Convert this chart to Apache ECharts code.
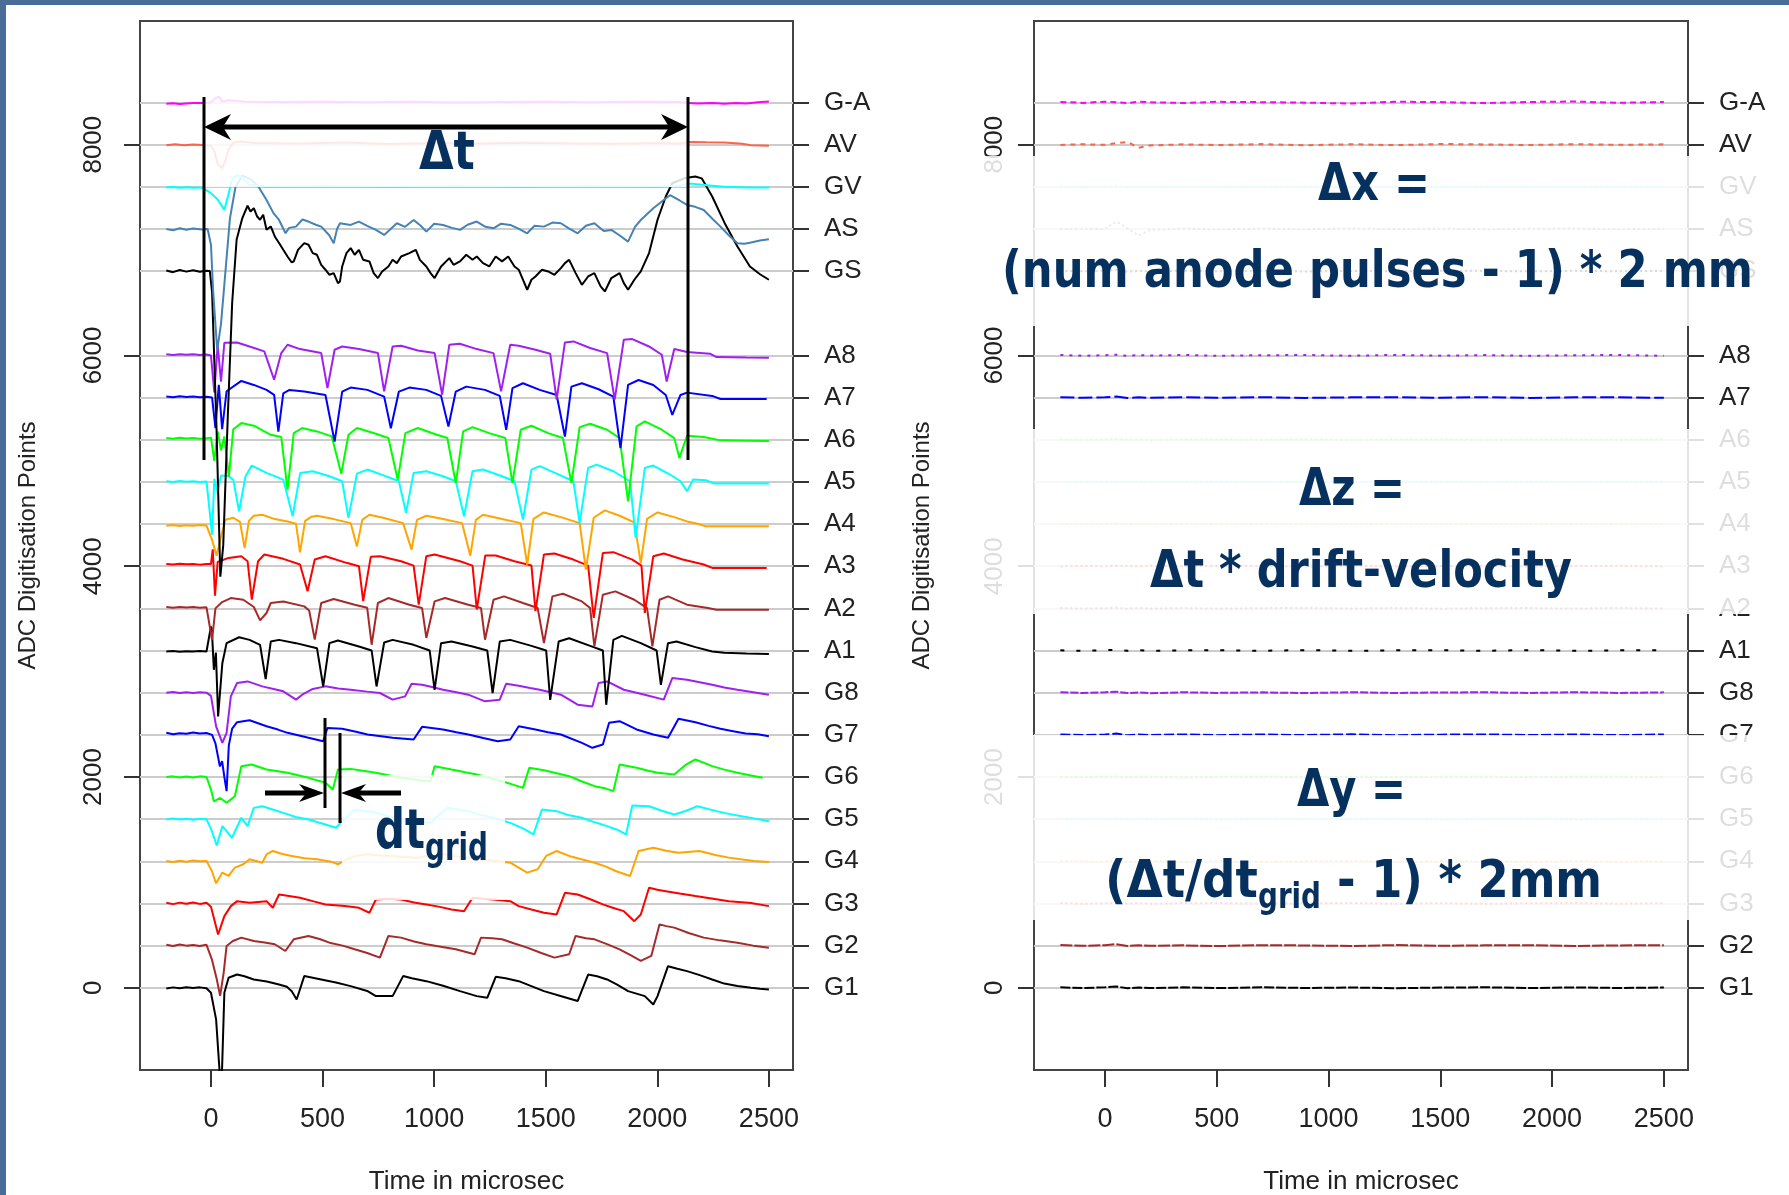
<!doctype html>
<html>
<head>
<meta charset="utf-8">
<style>
html, body { margin: 0; padding: 0; background: #fff; }
#main { width: 1789px; height: 1195px; }
</style>
</head>
<body>
<div id="main"></div>
<script src="https://cdn.jsdelivr.net/npm/echarts@6/dist/echarts.min.js"></script>
<script>
// channel names, bottom to top, and the ADC offset each trace is stacked on
var channels = ['G1', 'G2', 'G3', 'G4', 'G5', 'G6', 'G7', 'G8',
                'A1', 'A2', 'A3', 'A4', 'A5', 'A6', 'A7', 'A8',
                'GS', 'AS', 'GV', 'AV', 'G-A'];
var offsets = [0, 400, 800, 1200, 1600, 2000, 2400, 2800,
               3200, 3600, 4000, 4400, 4800, 5200, 5600, 6000,
               6800, 7200, 7600, 8000, 8400];
var timeTicks = [0, 500, 1000, 1500, 2000, 2500];
var adcTicks = [0, 2000, 4000, 6000, 8000];

// left panel: [time (microsec), ADC deviation from the channel offset]
var L_G1 = [[-200,-6],[-170,4],[-140,-4],[-110,6],[-80,-2],[-50,4],[-20,-4],[0,-47],[23,-300],[38,-775],[45,-1100],[51,-1100],[60,-47],[79,95],[117,126],[150,110],[192,79],[250,60],[305,32],[340,10],[362,-32],[384,-111],[418,111],[494,79],[560,50],[626,16],[700,-30],[739,-79],[814,-79],[861,111],[900,90],[965,63],[1040,20],[1116,-32],[1191,-79],[1238,-95],[1276,104],[1320,90],[1379,63],[1430,20],[1492,-32],[1570,-80],[1643,-126],[1690,126],[1730,110],[1775,79],[1820,30],[1869,-32],[1944,-79],[1982,-158],[2001,-79],[2048,205],[2090,180],[2133,158],[2190,120],[2246,79],[2300,40],[2359,16],[2420,0],[2460,-10],[2500,-16]];
var L_G2 = [[-200,8],[-170,-4],[-140,10],[-110,0],[-80,6],[-50,-4],[-20,8],[4,-130],[26,-319],[41,-477],[57,-256],[70,-3],[98,44],[136,76],[192,44],[240,30],[286,13],[333,-51],[371,60],[437,92],[490,60],[531,28],[590,0],[644,-35],[700,-70],[757,-114],[795,92],[852,76],[910,40],[965,13],[1030,-10],[1097,-35],[1181,-82],[1210,76],[1260,70],[1304,60],[1360,20],[1417,-19],[1480,-70],[1539,-114],[1605,-82],[1634,92],[1680,70],[1719,60],[1780,10],[1831,-35],[1880,-90],[1926,-145],[1973,-98],[2010,202],[2040,185],[2076,171],[2140,120],[2208,76],[2280,50],[2359,28],[2430,0],[2500,-19]];
var L_G3 = [[-200,6],[-170,-6],[-140,8],[-110,-2],[-80,10],[-50,-4],[-20,6],[0,-30],[32,-294],[60,-120],[89,-25],[117,22],[173,6],[249,22],[277,-41],[305,85],[350,70],[399,54],[460,20],[513,-9],[600,-25],[663,-41],[710,-88],[739,38],[800,45],[852,38],[910,10],[965,-9],[1020,-30],[1078,-57],[1134,-73],[1172,54],[1220,45],[1266,38],[1341,22],[1379,-25],[1440,-60],[1492,-88],[1549,-104],[1586,101],[1643,85],[1700,40],[1756,-9],[1800,-40],[1850,-73],[1897,-168],[1926,-104],[1963,149],[2000,130],[2038,117],[2100,95],[2171,70],[2250,45],[2321,22],[2420,5],[2500,-25]];
var L_G4 = [[-200,4],[-170,-6],[-140,6],[-110,-4],[-80,8],[-50,0],[-20,4],[4,-92],[23,-209],[51,-107],[79,-139],[107,-60],[145,-28],[173,19],[230,-13],[249,66],[277,98],[320,70],[362,51],[420,30],[475,19],[540,-5],[569,-28],[607,19],[650,50],[701,66],[760,55],[814,51],[870,40],[927,35],[980,55],[1040,66],[1120,40],[1191,19],[1270,5],[1341,-13],[1417,-107],[1464,-76],[1502,51],[1549,98],[1605,51],[1660,20],[1719,-13],[1770,-50],[1813,-92],[1878,-139],[1916,98],[1982,129],[2040,100],[2095,82],[2189,98],[2260,60],[2321,35],[2390,15],[2434,3],[2500,-6]];
var L_G5 = [[-200,-3],[-170,6],[-140,-4],[-110,4],[-80,-6],[-50,3],[-20,0],[4,-114],[26,-250],[51,-66],[70,-114],[94,-177],[136,13],[164,-66],[192,107],[230,123],[280,90],[324,60],[380,20],[437,-3],[513,-51],[560,-82],[588,-19],[644,92],[700,75],[739,60],[800,25],[852,-3],[920,-20],[984,-35],[1059,107],[1100,95],[1153,76],[1210,40],[1266,13],[1341,-35],[1400,-90],[1445,-145],[1483,92],[1549,76],[1600,40],[1662,13],[1720,-30],[1775,-66],[1820,-100],[1860,-145],[1888,130],[1963,123],[2020,80],[2076,44],[2130,80],[2180,123],[2265,76],[2320,50],[2378,28],[2440,5],[2500,-19]];
var L_G6 = [[-200,0],[-170,6],[-140,-4],[-110,4],[-80,-4],[-50,6],[-20,0],[0,-119],[13,-231],[41,-199],[70,-245],[107,-182],[136,103],[183,119],[249,71],[343,40],[437,-8],[513,-55],[546,-119],[569,71],[626,77],[680,60],[739,40],[800,15],[852,-8],[920,-25],[984,-40],[1002,103],[1078,71],[1140,45],[1191,24],[1250,-10],[1304,-40],[1350,-70],[1398,-103],[1426,87],[1492,64],[1550,35],[1605,8],[1660,-40],[1719,-87],[1770,-110],[1803,-134],[1831,119],[1907,87],[1960,60],[2001,40],[2076,24],[2130,120],[2171,166],[2246,103],[2300,70],[2359,40],[2420,15],[2472,-8]];
var L_G7 = [[-200,19],[-170,6],[-140,16],[-110,10],[-80,22],[-50,12],[-20,18],[5,0],[20,-80],[40,-300],[50,-250],[60,-400],[70,-534],[80,-100],[95,60],[117,120],[173,139],[249,82],[300,50],[343,19],[437,-28],[503,-60],[522,66],[588,57],[650,30],[701,3],[814,-28],[908,-44],[946,76],[1040,51],[1100,25],[1153,3],[1220,-30],[1285,-60],[1341,-44],[1379,82],[1454,51],[1510,25],[1568,3],[1662,-76],[1709,-123],[1756,-92],[1784,114],[1831,130],[1907,51],[1982,3],[2048,-28],[2095,152],[2171,120],[2230,85],[2283,57],[2340,35],[2396,13],[2450,5],[2500,-13]];
var L_G8 = [[-200,0],[-170,6],[-140,-4],[-110,4],[-80,-2],[-50,4],[-20,0],[0,-30],[23,-319],[51,-477],[70,-382],[89,-35],[117,92],[164,107],[230,60],[290,30],[324,13],[381,-66],[409,-19],[456,35],[513,60],[570,40],[626,28],[700,10],[757,-3],[814,-66],[870,-35],[899,85],[946,76],[1000,50],[1040,28],[1100,5],[1153,-19],[1228,-82],[1294,-66],[1323,85],[1379,66],[1430,45],[1473,28],[1568,-19],[1643,-114],[1709,-130],[1737,92],[1775,107],[1850,28],[1944,-19],[2029,-66],[2067,139],[2133,123],[2190,100],[2246,76],[2300,50],[2359,28],[2430,5],[2500,-19]];
var L_A1 = [[-200,-9],[-170,-4],[-140,-12],[-110,-6],[-80,-10],[-50,-4],[-20,-9],[0,228],[4,196],[13,-183],[22,-20],[32,-626],[51,-120],[70,70],[126,126],[173,101],[220,54],[245,-272],[268,85],[305,101],[381,70],[475,22],[503,-341],[531,70],[569,95],[663,38],[720,0],[742,-341],[776,76],[814,101],[908,54],[980,0],[1002,-373],[1031,70],[1078,85],[1172,38],[1238,0],[1262,-405],[1294,85],[1341,101],[1436,44],[1502,0],[1520,-468],[1558,85],[1605,117],[1699,44],[1756,0],[1771,-515],[1803,101],[1841,139],[1926,70],[1997,0],[2016,-326],[2048,70],[2086,85],[2171,32],[2246,-9],[2300,-20],[2400,-28],[2500,-32]];
var L_A2 = [[-200,13],[-170,6],[-140,14],[-110,8],[-80,12],[-50,5],[-20,10],[5,-300],[20,0],[50,60],[89,98],[145,82],[192,13],[220,-114],[249,-44],[268,51],[324,66],[418,19],[440,-20],[465,-297],[494,51],[550,89],[644,35],[700,5],[720,-345],[748,51],[795,98],[889,35],[946,3],[965,-281],[1002,66],[1049,98],[1153,35],[1210,3],[1228,-297],[1266,82],[1313,114],[1398,51],[1464,3],[1492,-329],[1530,114],[1577,139],[1662,66],[1699,3],[1718,-360],[1756,130],[1812,161],[1897,82],[1954,3],[1978,-360],[2010,82],[2048,114],[2133,35],[2227,3],[2265,-13],[2400,-13],[2500,-13]];
var L_A3 = [[-200,22],[-170,16],[-140,24],[-110,18],[-80,22],[-50,15],[-20,20],[0,20],[8,160],[18,-280],[30,40],[79,79],[136,95],[164,47],[183,-316],[211,47],[239,111],[324,70],[399,16],[433,-237],[465,63],[513,95],[607,32],[663,0],[682,-332],[716,89],[757,95],[852,47],[908,6],[931,-364],[965,95],[1002,111],[1116,47],[1172,6],[1191,-411],[1229,101],[1276,101],[1360,47],[1436,6],[1454,-427],[1492,111],[1539,120],[1624,63],[1690,6],[1715,-490],[1756,126],[1803,133],[1888,63],[1929,6],[1944,-443],[1982,95],[2029,120],[2114,63],[2208,16],[2246,-16],[2400,-16],[2490,-16]];
var L_A4 = [[-200,-16],[-170,-10],[-140,-18],[-110,-12],[-80,-16],[-50,-10],[-20,-14],[5,-150],[25,-300],[45,-120],[65,40],[100,60],[130,20],[151,-228],[170,30],[192,79],[230,88],[286,47],[343,25],[381,3],[399,-269],[422,30],[447,66],[475,79],[550,47],[626,9],[654,-212],[678,40],[710,88],[776,57],[861,9],[899,-243],[923,40],[965,79],[1040,47],[1125,9],[1162,-300],[1187,40],[1219,88],[1304,47],[1388,9],[1417,-386],[1445,50],[1492,110],[1568,66],[1652,9],[1680,-433],[1715,60],[1765,130],[1831,79],[1897,16],[1926,-370],[1954,50],[2001,110],[2076,66],[2133,25],[2180,3],[2218,-22],[2350,-22],[2500,-22]];
var L_A5 = [[-200,6],[-170,0],[-140,8],[-110,2],[-80,6],[-50,0],[-20,4],[5,-500],[15,30],[30,-100],[45,60],[79,54],[100,20],[126,-278],[155,54],[183,155],[249,85],[324,22],[366,-326],[400,85],[456,101],[531,54],[588,6],[616,-341],[654,79],[701,117],[776,60],[842,6],[874,-294],[908,85],[965,101],[1040,54],[1097,6],[1134,-326],[1172,101],[1219,117],[1304,54],[1360,6],[1398,-357],[1436,117],[1473,149],[1549,79],[1624,6],[1652,-389],[1690,133],[1728,164],[1803,101],[1878,6],[1903,-531],[1944,133],[1982,155],[2057,70],[2104,6],[2133,-88],[2161,22],[2218,16],[2255,-16],[2400,-16],[2500,-16]];
var L_A6 = [[-200,16],[-170,10],[-140,18],[-110,12],[-80,16],[-50,10],[-20,14],[0,20],[15,-200],[30,80],[45,-100],[60,30],[80,-350],[100,100],[136,158],[192,133],[268,47],[315,25],[343,-474],[371,63],[409,111],[475,79],[541,32],[584,-322],[616,47],[654,111],[739,57],[795,16],[837,-379],[871,63],[927,111],[1002,54],[1059,16],[1097,-411],[1130,79],[1172,120],[1247,63],[1319,16],[1351,-411],[1388,95],[1436,133],[1511,63],[1577,16],[1615,-411],[1652,120],[1699,152],[1775,95],[1831,16],[1869,-585],[1907,126],[1944,174],[2020,95],[2076,16],[2099,-174],[2133,38],[2208,25],[2283,-6],[2400,-10],[2500,-13]];
var L_A7 = [[-200,10],[-170,4],[-140,12],[-110,6],[-80,10],[-50,4],[-20,8],[5,0],[20,-290],[35,120],[50,-300],[70,60],[136,158],[192,120],[249,73],[283,25],[302,-322],[324,41],[352,73],[418,57],[513,25],[554,-417],[588,57],[626,95],[701,73],[776,9],[806,-291],[842,57],[889,95],[965,73],[1031,16],[1064,-275],[1097,57],[1144,104],[1228,73],[1294,16],[1323,-307],[1351,89],[1398,136],[1473,73],[1549,25],[1586,-370],[1615,104],[1662,136],[1737,79],[1803,9],[1835,-480],[1869,120],[1916,167],[1982,120],[2038,25],[2067,-164],[2104,25],[2133,47],[2246,16],[2283,-13],[2400,-13],[2490,-13]];
var L_A8 = [[-200,10],[-170,4],[-140,12],[-110,6],[-80,10],[-50,4],[-20,8],[0,0],[15,-350],[30,100],[45,-250],[60,120],[117,123],[173,85],[239,38],[283,-231],[315,22],[343,101],[399,60],[494,22],[522,-310],[554,54],[588,85],[663,60],[748,22],[776,-341],[814,85],[852,92],[927,47],[1002,22],[1036,-373],[1068,101],[1115,111],[1191,60],[1266,22],[1300,-341],[1341,101],[1379,92],[1454,54],[1520,16],[1549,-420],[1586,123],[1624,133],[1699,70],[1775,22],[1809,-420],[1850,149],[1888,155],[1963,85],[2020,6],[2042,-247],[2076,60],[2133,32],[2236,16],[2265,-16],[2400,-20],[2500,-22]];
var L_GS = [[-200,5],[-170,-10],[-140,10],[-110,-5],[-80,8],[-50,-6],[-20,4],[-5,0],[5,-200],[25,-1500],[42,-2900],[55,-2600],[75,-1400],[95,-300],[115,300],[140,500],[164,620],[177,566],[192,597],[207,518],[220,487],[234,534],[249,392],[268,424],[286,329],[305,266],[324,202],[343,139],[362,82],[371,92],[390,202],[418,265],[437,250],[456,171],[475,155],[494,60],[513,13],[531,-35],[550,-19],[569,-114],[578,-98],[588,44],[607,171],[626,218],[644,155],[663,202],[682,107],[710,92],[729,-19],[748,-66],[767,-3],[795,44],[814,107],[833,76],[852,139],[889,171],[918,202],[936,107],[965,44],[984,-19],[1002,-66],[1031,44],[1068,123],[1087,60],[1116,92],[1144,155],[1172,107],[1191,139],[1219,76],[1247,44],[1276,139],[1304,92],[1332,139],[1360,44],[1379,13],[1417,-177],[1436,-82],[1454,-51],[1483,13],[1511,-3],[1539,-35],[1568,28],[1586,76],[1605,107],[1634,-19],[1662,-130],[1690,-51],[1718,-19],[1746,-145],[1765,-193],[1794,-66],[1831,-19],[1850,-114],[1869,-177],[1897,-82],[1926,-3],[1963,171],[2001,487],[2038,708],[2067,834],[2120,880],[2170,898],[2199,880],[2246,708],[2302,455],[2359,234],[2415,44],[2460,-30],[2500,-82]];
var L_AS = [[-200,0],[-170,-12],[-140,6],[-110,-8],[-80,4],[-40,-6],[-15,0],[0,-150],[10,-600],[28,-1150],[45,-900],[65,-400],[85,100],[110,400],[140,506],[180,470],[213,400],[249,275],[280,150],[305,85],[334,-41],[350,10],[381,22],[410,90],[437,70],[470,40],[494,22],[530,-60],[550,-136],[565,0],[578,54],[626,38],[663,70],[700,30],[739,-9],[776,-57],[833,54],[870,20],[908,85],[940,30],[965,-25],[1000,50],[1040,38],[1080,10],[1116,-9],[1150,40],[1191,70],[1230,20],[1266,6],[1300,50],[1341,38],[1380,0],[1417,-41],[1450,30],[1492,22],[1530,60],[1568,54],[1600,10],[1643,-41],[1680,30],[1718,54],[1760,-20],[1794,-9],[1830,-60],[1869,-120],[1900,20],[1926,85],[1982,196],[2020,260],[2057,320],[2100,270],[2133,228],[2170,210],[2208,180],[2250,90],[2283,22],[2320,-60],[2359,-136],[2390,-140],[2415,-130],[2460,-110],[2500,-98]];
var L_GV = [[-200,-6],[-170,-2],[-140,-8],[-110,-4],[-80,-10],[-50,-6],[-30,-20],[0,-60],[30,-120],[60,-219],[80,-60],[95,80],[120,110],[140,90],[170,20],[250,0],[500,4],[800,0],[1100,4],[1400,0],[1700,4],[2000,0],[2100,10],[2150,30],[2200,20],[2260,8],[2300,0],[2400,-6],[2500,-6]];
var L_AV = [[-200,-6],[-160,4],[-120,-6],[-80,2],[-40,-4],[0,-10],[15,-60],[30,-180],[50,-224],[65,-150],[80,-40],[100,20],[130,30],[200,15],[400,10],[600,20],[800,5],[1000,15],[1200,10],[1400,18],[1600,12],[1800,8],[2000,15],[2100,10],[2150,25],[2220,22],[2300,20],[2380,8],[2420,-6],[2500,-10]];
var L_GA = [[-200,-12],[-170,-8],[-140,-14],[-110,-10],[-80,-6],[-40,-4],[0,0],[20,40],[35,55],[50,10],[80,20],[150,8],[300,4],[500,8],[700,2],[900,6],[1100,0],[1300,4],[1500,8],[1700,2],[1900,6],[2100,4],[2140,-6],[2180,-10],[2250,-4],[2300,-12],[2350,-6],[2400,-10],[2450,2],[2500,10]];

// right panel: shared sample times and ADC deviations per channel
var rt = [-200, -100, 0, 50, 100, 150, 200, 350, 500, 700, 900, 1100, 1300, 1500, 1700, 1900, 2100, 2300, 2500];
var R_G1 = [4, -3, 5, 12, -4, 3, -2, 4, -3, 5, -2, 3, -4, 2, 5, -3, 4, -2, 3];
var R_G2 = [5, -2, 4, 14, -3, 4, -2, 3, -4, 4, 2, -3, 5, -2, 3, 4, -3, 2, 4];
var R_G3 = [3, -4, 2, 6, -2, 4, -3, 2, 4, -3, 2, 5, -2, 3, -4, 2, 3, -2, 3];
var R_G4 = [2, 3, -2, 8, -3, 2, 4, -2, 3, -3, 2, 4, -3, 2, 3, -2, 4, -3, 2];
var R_G5 = [-2, 3, 2, 6, -4, 3, -2, 4, -3, 2, 3, -2, 4, -3, 2, 5, -3, 2, -2];
var R_G6 = [3, -2, 4, 7, -3, 2, 3, -4, 2, 3, -2, 4, -3, 2, 3, -2, 2, 4, -3];
var R_G7 = [4, -2, 3, 12, -5, 3, -2, 4, -3, 3, -2, 5, -3, 2, 4, -2, 3, -3, 4];
var R_G8 = [5, -3, 4, 10, -4, 3, -5, 4, -2, 3, -4, 5, -3, 2, 4, -3, 5, -2, 3];
var R_A1 = [2, -3, 4, 6, -2, 3, -4, 2, 3, -2, 4, -3, 2, 3, -2, 4, -3, 2, 3];
var R_A2 = [3, -2, 2, 5, -3, 4, -2, 3, -3, 2, 4, -2, 3, -3, 2, 3, -2, 4, -2];
var R_A3 = [-2, 3, -3, 5, 2, -3, 4, -2, 3, 2, -3, 4, -2, 2, 3, -3, 2, 3, -2];
var R_A4 = [2, -2, 3, 6, -3, 2, -2, 4, -3, 3, -2, 2, 4, -3, 2, -2, 3, -2, 2];
var R_A5 = [-3, 2, 3, 4, -2, 3, -3, 2, 4, -2, 3, -3, 2, 3, -2, 4, -3, 2, 3];
var R_A6 = [2, -3, 4, 8, -2, 3, -4, 2, 3, -2, 4, -3, 2, 3, -4, 2, 3, -2, 4];
var R_A7 = [3, -2, 3, 10, -3, 2, -2, 3, -2, 4, -3, 2, 3, -2, 4, -3, 2, 3, -2];
var R_A8 = [4, -3, 2, 6, -4, 3, -2, 5, -3, 2, 4, -3, 5, -2, 3, -4, 2, 4, -3];
var R_GS = [3, -2, 4, 14, -6, 2, -3, 4, -2, 3, -4, 2, -3, 4, 2, -3, 3, -2, 2];
var R_AS = [-2, 3, 0, 70, 5, -62, -10, 3, -4, 2, -3, 4, -2, 3, -3, 2, 4, -2, 1];
var R_GV = [2, -3, 4, 10, -5, 3, -2, 4, -3, 2, 5, -4, 3, -2, 4, -3, 2, 5, -2];
var R_AV = [-3, 4, -2, 14, 26, -30, -8, 3, -4, 5, -6, 4, -5, 6, 2, -4, 5, -2, 3];
var R_GA = [5, -4, 8, 3, -6, 7, 2, -5, 6, 3, -2, -10, 7, 4, -6, 5, 9, -3, 4];

var leftTraces = [L_G1, L_G2, L_G3, L_G4, L_G5, L_G6, L_G7, L_G8,
                  L_A1, L_A2, L_A3, L_A4, L_A5, L_A6, L_A7, L_A8,
                  L_GS, L_AS, L_GV, L_AV, L_GA];
var rightTraces = [R_G1, R_G2, R_G3, R_G4, R_G5, R_G6, R_G7, R_G8,
                   R_A1, R_A2, R_A3, R_A4, R_A5, R_A6, R_A7, R_A8,
                   R_GS, R_AS, R_GV, R_AV, R_GA];

var colors = ['#000000', '#a52a2a', '#ff0000', '#ffa500', '#00ffff', '#00ff00', '#0000ff', '#a020f0',
              '#000000', '#a52a2a', '#ff0000', '#ffa500', '#00ffff', '#00ff00', '#0000ff', '#a020f0',
              '#000000', '#4682b4', '#00ffff', '#ff6347', '#ff00ff'];
var rightDash = [[10, 2], [12, 2], [2, 3], [2, 3], [2, 3], [2, 3], [10, 3], [8, 2],
                 [4, 12], [2, 3], [2, 3], [2, 3], [2, 3], [2, 3], [14, 4], [3, 6],
                 [2, 3], [2, 3], [2, 3], [5, 5], [6, 4]];

var NAVY = '#06315f';
var LABEL_FONT = "'Liberation Sans', Arial, sans-serif";

var chart = echarts.init(document.getElementById('main'));

function plain(v) { return String(v); }

function panelAxes(gi, tickMargin) {
    var x = {
        gridIndex: gi, type: 'value', min: -318, max: 2608,
        axisLine: { show: false, onZero: false },
        axisTick: { show: true, customValues: timeTicks, length: 17, lineStyle: { color: '#333', width: 2 } },
        axisLabel: { customValues: timeTicks, fontSize: 27, color: '#222', margin: 36, fontFamily: LABEL_FONT, formatter: plain },
        splitLine: { show: false },
        name: 'Time in microsec', nameLocation: 'middle', nameGap: 99,
        nameTextStyle: { fontSize: 26, color: '#222', fontFamily: LABEL_FONT }
    };
    var yl = {
        gridIndex: gi, type: 'value', min: -780, max: 9173, position: 'left',
        axisLine: { show: false, onZero: false },
        axisTick: { show: true, customValues: adcTicks, length: 16, lineStyle: { color: '#333', width: 2 } },
        axisLabel: { customValues: adcTicks, rotate: 90, fontSize: 26, color: '#222', margin: tickMargin, fontFamily: LABEL_FONT, formatter: plain },
        splitLine: { show: false },
        name: 'ADC Digitisation Points', nameLocation: 'middle', nameRotate: 90, nameGap: 100,
        nameTextStyle: { fontSize: 24, color: '#222', fontFamily: LABEL_FONT }
    };
    var yr = {
        gridIndex: gi, type: 'value', min: -780, max: 9173, position: 'right',
        axisLine: { show: false, onZero: false },
        axisTick: { show: true, customValues: offsets, length: 16, lineStyle: { color: '#333', width: 2 } },
        axisLabel: {
            customValues: offsets, fontSize: 26, color: '#222', margin: 31, fontFamily: LABEL_FONT,
            formatter: function (v) { return channels[offsets.indexOf(v)]; }
        },
        splitLine: { show: true, lineStyle: { color: '#cccccc', width: 2 } }
    };
    return { x: x, yl: yl, yr: yr };
}

var pL = panelAxes(0, 33);
var pR = panelAxes(1, 26);

var series = [];
leftTraces.forEach(function (tr, i) {
    series.push({
        type: 'line', xAxisIndex: 0, yAxisIndex: 0, symbol: 'none', silent: true,
        data: tr.map(function (p) { return [p[0], offsets[i] + p[1]]; }),
        lineStyle: { color: colors[i], width: 2 }
    });
});
rightTraces.forEach(function (tr, i) {
    series.push({
        type: 'line', xAxisIndex: 1, yAxisIndex: 2, symbol: 'none', silent: true,
        data: tr.map(function (v, j) { return [rt[j], offsets[i] + v]; }),
        lineStyle: { color: colors[i], width: 2, type: rightDash[i] }
    });
});

// annotation text, squeezed horizontally to the width it has on the slide
var measureCtx = document.createElement('canvas').getContext('2d');
function slideText(str, left, width, baseline, size) {
    var font = 'bold ' + size + "px 'DejaVu Sans', sans-serif";
    measureCtx.font = font;
    var w = measureCtx.measureText(str).width;
    return {
        type: 'text', x: left, y: baseline - 0.3 * size, scaleX: width / w, z: 120,
        style: { text: str, font: font, fill: NAVY, textAlign: 'left', align: 'left',
                 textVerticalAlign: 'middle', verticalAlign: 'middle' }
    };
}
function veil(x, y, w, h) {
    return { type: 'rect', shape: { x: x, y: y, width: w, height: h }, z: 100,
             style: { fill: 'rgba(255,255,255,0.85)' } };
}
function bar(x1, y1, x2, y2, lw) {
    return { type: 'line', shape: { x1: x1, y1: y1, x2: x2, y2: y2 }, z: 110,
             style: { stroke: '#000', lineWidth: lw } };
}
function head(tipX, tipY, dir, len, half) {
    // dir = 1: points right, -1: points left
    var b = tipX - dir * len;
    return { type: 'polygon', z: 111, style: { fill: '#000' },
             shape: { points: [[tipX, tipY], [b, tipY - half], [b + dir * len * 0.3, tipY], [b, tipY + half]] } };
}

var graphics = [
    veil(205, 60, 482, 127),
    veil(342, 775, 163, 125),
    veil(972, 156, 817, 170),
    veil(972, 429, 817, 185),
    veil(972, 735, 817, 185),

    bar(204, 97, 204, 460, 3),
    bar(688, 97, 688, 460, 3),
    bar(214, 127, 678, 127, 5),
    head(204, 127, -1, 27, 13),
    head(688, 127, 1, 27, 13),

    bar(325, 718, 325, 808, 3),
    bar(340, 733, 340, 823, 3),
    bar(265, 793, 312, 793, 5),
    bar(353, 793, 401, 793, 5),
    head(324, 793, 1, 25, 9),
    head(341, 793, -1, 25, 9),

    slideText('\u0394t', 419, 56, 171, 54),
    slideText('dt', 375, 50, 850, 56),
    slideText('grid', 425, 63, 861, 37),
    slideText('\u0394x =', 1318, 112, 202, 51),
    slideText('(num anode pulses - 1) * 2 mm', 1002, 751, 289, 51),
    slideText('\u0394z =', 1299, 106, 507, 51),
    slideText('\u0394t * drift-velocity', 1150, 422, 589, 51),
    slideText('\u0394y =', 1297, 109, 808, 51),
    slideText('(\u0394t/dt', 1105, 153, 899, 51),
    slideText('grid', 1258, 63, 909, 36),
    slideText('- 1) * 2mm', 1337, 265, 899, 51),

    { type: 'rect', shape: { x: 0, y: 0, width: 1789, height: 5 }, z: 200, style: { fill: '#4a6c98' } },
    { type: 'rect', shape: { x: 0, y: 0, width: 6, height: 1195 }, z: 200, style: { fill: '#4a6c98' } }
];

chart.setOption({
    animation: false,
    backgroundColor: '#ffffff',
    grid: [
        { left: 140, top: 21, width: 653, height: 1049, show: true, borderColor: '#444', borderWidth: 2,
          backgroundColor: 'transparent', outerBoundsMode: 'none' },
        { left: 1034, top: 21, width: 654, height: 1049, show: true, borderColor: '#444', borderWidth: 2,
          backgroundColor: 'transparent', outerBoundsMode: 'none' }
    ],
    xAxis: [pL.x, pR.x],
    yAxis: [pL.yl, pL.yr, pR.yl, pR.yr],
    series: series,
    graphic: graphics
});

window.addEventListener('resize', function () {
    chart.resize();
});
</script>
</body>
</html>
